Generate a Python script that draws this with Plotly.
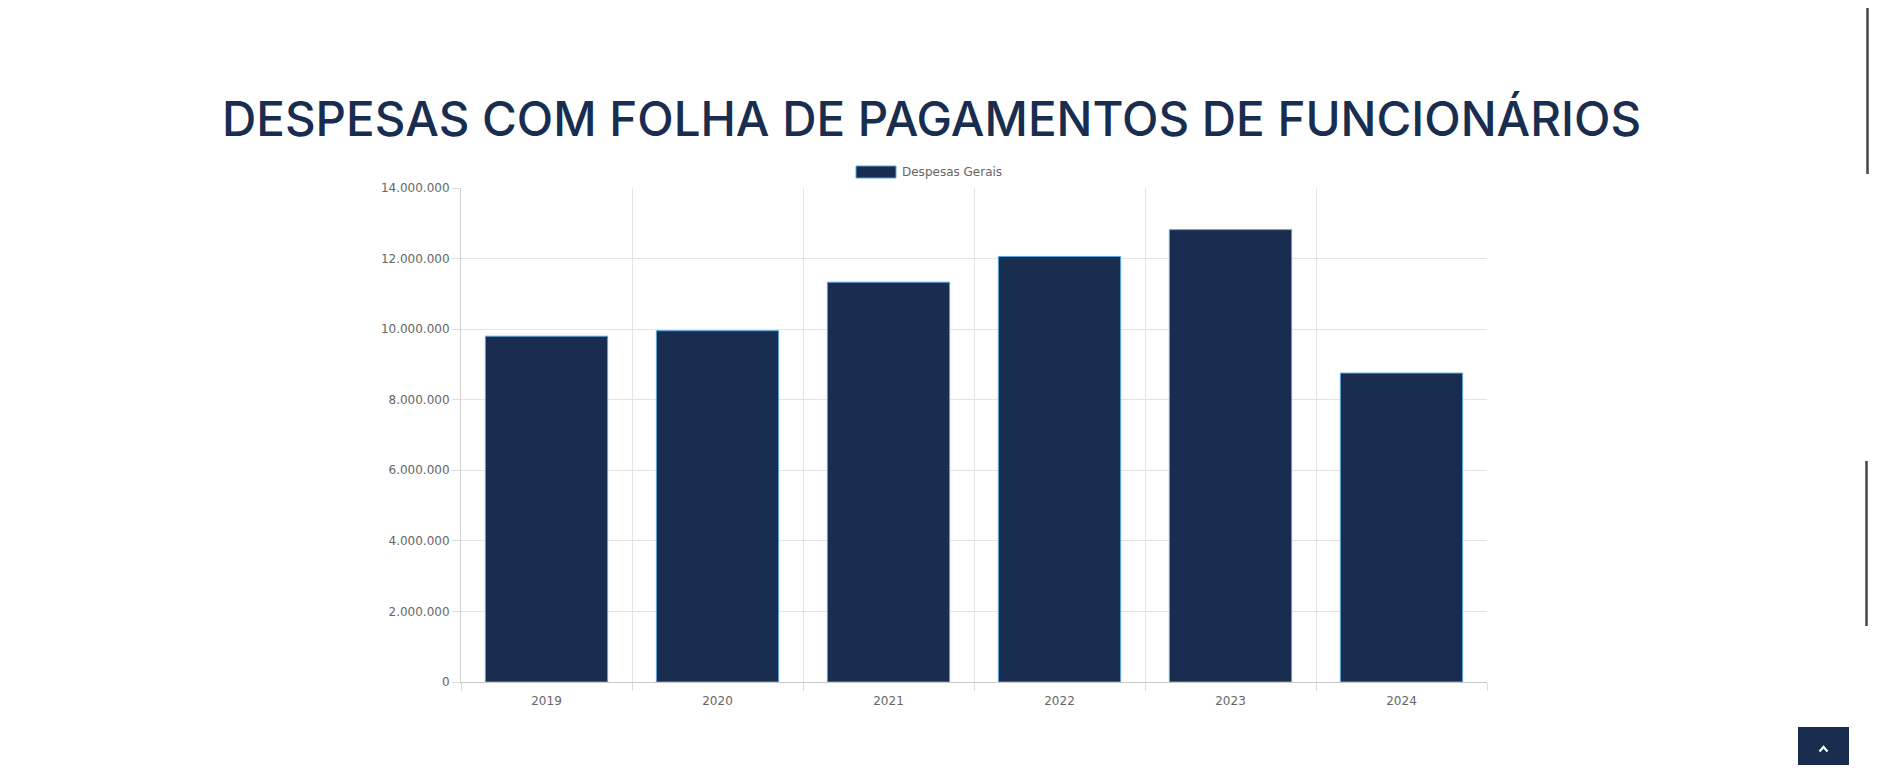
import plotly.graph_objects as go

anos = ["2019", "2020", "2021", "2022", "2023", "2024"]
despesas_gerais = [9800000, 9955000, 11330000, 12060000, 12820000, 8755000]
y_ticks = [0, 2000000, 4000000, 6000000, 8000000, 10000000, 12000000, 14000000]

titulo = "DESPESAS COM FOLHA DE PAGAMENTOS DE FUNCIONÁRIOS"
serie_nome = "Despesas Gerais"

OFF = 8  # body margin of the html page
W, H = 1877 - 2 * OFF, 773 - 2 * OFF
# plot area in page pixels
L, R, T, B = 461, 1487, 188, 682

NAVY = "#182d4f"
EDGE = "#5aa5da"
TICKFONT = dict(family="DejaVu Sans, Verdana, sans-serif", size=12, color="#666666")

def xp(px):
    return (px - L) / (R - L)

def yp(py):
    return (B - py) / (B - T)

fig = go.Figure()
fig.add_trace(go.Bar(
    x=anos, y=despesas_gerais, name=serie_nome,
    marker=dict(color=NAVY, line=dict(color=EDGE, width=1)),
    hoverinfo="x+y", showlegend=False,
))

fig.update_layout(
    width=W, height=H,
    margin=dict(l=L - OFF, r=W - (R - OFF), t=T - OFF, b=H - (B - OFF), autoexpand=False),
    paper_bgcolor="white", plot_bgcolor="white",
    separators=",.",
    bargap=0.285,
    font=TICKFONT,
    xaxis=dict(type="category", tickson="boundaries", ticks="outside", ticklen=8,
               tickcolor="#dcdcdc", showgrid=True, gridcolor="#e4e4e4", gridwidth=1,
               showline=True, linecolor="#c9c9c9", linewidth=1, ticklabelstandoff=8,
               tickfont=TICKFONT, range=[-0.5, 5.5]),
    yaxis=dict(range=[0, 14000000], tickvals=y_ticks, tickformat=",d",
               ticks="outside", ticklen=8, tickcolor="#dcdcdc",
               showgrid=True, gridcolor="#e4e4e4", gridwidth=1,
               showline=True, linecolor="#d0d0d0", linewidth=1, zeroline=False,
               tickfont=TICKFONT),
    annotations=[
        dict(text=titulo, xref="paper", yref="paper", x=xp(931), y=yp(119),
             xanchor="center", yanchor="middle", showarrow=False,
             font=dict(family="Inter, Lato, sans-serif", size=47.5, color=NAVY, weight=500)),
        dict(text=serie_nome, xref="paper", yref="paper", x=xp(900), y=yp(172),
             xanchor="left", yanchor="middle", showarrow=False, font=TICKFONT),
    ],
)

# legend box (Chart.js style)
fig.add_shape(type="rect", xref="paper", yref="paper",
              x0=xp(856), x1=xp(896), y0=yp(178), y1=yp(166),
              fillcolor=NAVY, line=dict(color=EDGE, width=1))

# page decorations: scroll-to-top button and scrollbar marks
fig.add_shape(type="rect", xref="paper", yref="paper",
              x0=xp(1798), x1=xp(1849), y0=yp(771), y1=yp(727),
              fillcolor=NAVY, line=dict(width=0), layer="above")
cx, cy = 1823.5, 749
fig.add_shape(type="path", xref="paper", yref="paper",
              path=(f"M {xp(cx-4)},{yp(cy+2.5)} L {xp(cx)},{yp(cy-2)} L {xp(cx+4)},{yp(cy+2.5)}"),
              line=dict(color="white", width=2.2))
for (xx, ya, yb) in [(1867.5, 0, 174), (1866.5, 461, 626)]:
    fig.add_shape(type="line", xref="paper", yref="paper",
                  x0=xp(xx), x1=xp(xx), y0=yp(yb), y1=yp(ya),
                  line=dict(color="#454545", width=2.5))

fig.write_html("out.html")
